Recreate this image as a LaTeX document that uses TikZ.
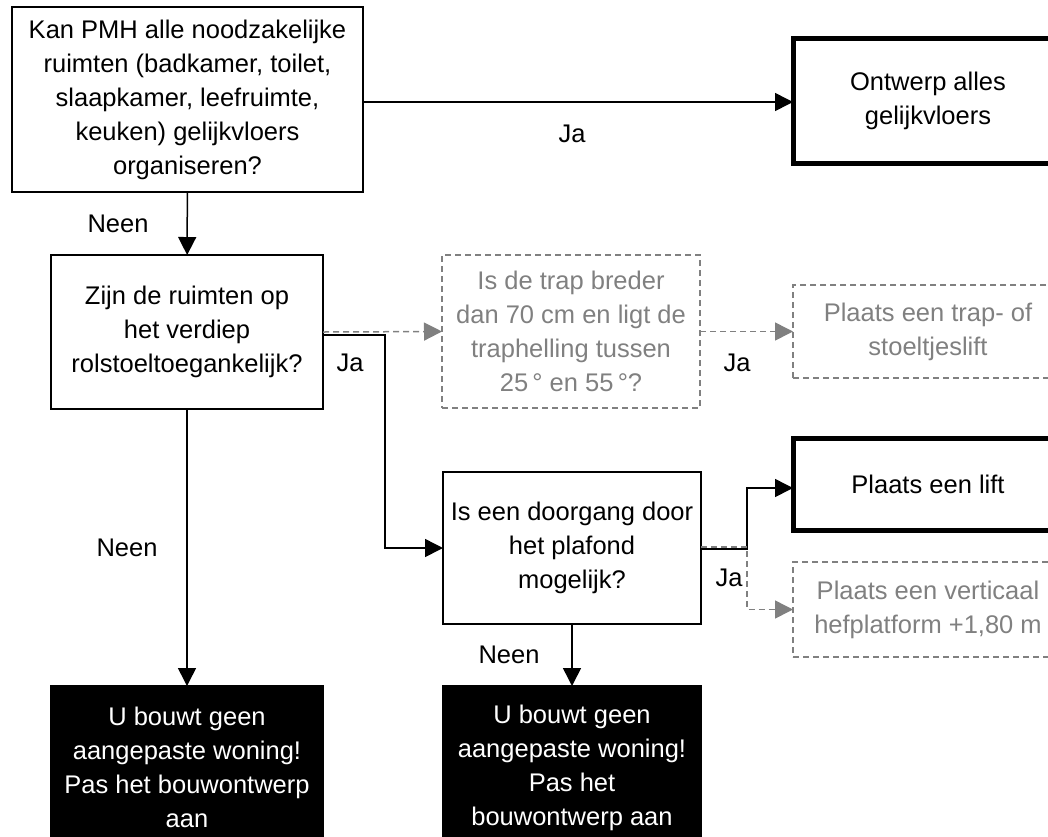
\documentclass[tikz,border=0pt]{standalone}
\usepackage{fontspec}
\setmainfont{Liberation Sans}
\usetikzlibrary{arrows.meta, positioning}
\definecolor{optgray}{HTML}{808080}

\begin{document}
\begin{tikzpicture}[
  x=1pt, y=-1pt,
  font=\fontsize{25.5}{34}\selectfont,
  box/.style={draw, line width=1.5pt, align=center, inner sep=0pt, outer sep=0pt},
  endbox/.style={box, line width=5pt},
  optbox/.style={box, dashed, dash pattern=on 6pt off 4pt, draw=optgray, text=optgray},
  stopbox/.style={box, fill=black, text=white},
  lbl/.style={inner sep=0pt},
  arr/.style={-{Triangle[length=18pt, width=18pt]}, line width=1.5pt},
  optarr/.style={arr, draw=optgray, dash pattern=on 6pt off 4pt}
]
\useasboundingbox (0,0) rectangle (1048,836);
\clip (0,0) rectangle (1048,836);

\node[box, minimum width=351pt, minimum height=185pt] (gelijk) at (187.5,99.5)
  {Kan PMH alle noodzakelijke\\ruimten (badkamer, toilet,\\slaapkamer, leefruimte,\\keuken) gelijkvloers\\organiseren?};
\node[endbox, minimum width=270pt, minimum height=125pt] (ontwerp) at (928,100.5)
  {Ontwerp alles\\gelijkvloers};
\node[box, minimum width=272pt, minimum height=154pt] (verdiep) at (187,332)
  {Zijn de ruimten op\\het verdiep\\rolstoeltoegankelijk?};
\node[optbox, minimum width=258pt, minimum height=153pt] (trap) at (571,331.5)
  {Is de trap breder\\dan 70 cm en ligt de\\traphelling tussen\\25\,° en 55\,°?};
\node[optbox, minimum width=270pt, minimum height=93pt] (traplift) at (928,331.5)
  {Plaats een trap- of\\stoeltjeslift};
\node[box, minimum width=258pt, minimum height=152pt] (plafond) at (572,548)
  {Is een doorgang door\\het plafond\\mogelijk?};
\node[endbox, minimum width=270pt, minimum height=92pt] (lift) at (928,484)
  {Plaats een lift};
\node[optbox, minimum width=270pt, minimum height=95pt] (hef) at (928,609.5)
  {Plaats een verticaal\\hefplatform +1,80 m};
\node[stopbox, minimum width=272pt, minimum height=163pt] (stopA) at (187,767.5)
  {U bouwt geen\\aangepaste woning!\\Pas het bouwontwerp\\aan};
\node[stopbox, minimum width=258pt, minimum height=163pt] (stopB) at (572,767.5)
  {U bouwt geen\\aangepaste woning!\\Pas het\\bouwontwerp aan};

\node[lbl] (jaA) at (572,134) {Ja};
\node[lbl] (neenA) at (118,224) {Neen};
\node[lbl] (jaB) at (350,363) {Ja};
\node[lbl] (jaT) at (737,363) {Ja};
\node[lbl] (neenB) at (127,548) {Neen};
\node[lbl] (jaC) at (729,578) {Ja};
\node[lbl] (neenC) at (509,655) {Neen};

\draw[arr] (gelijk.east |- 0,102) -- (ontwerp.west |- 0,102);
\draw[arr] (gelijk) -- (verdiep);
\draw[optarr] (verdiep.east) -- (trap.west);
\draw[arr] ([yshift=-3pt]verdiep.east) -- ++(62,0) |- (plafond.west);
\draw[optarr] (trap.east) -- (traplift.west);
\draw[arr] ([yshift=-1pt]plafond.east) -- ++(46,0) |- ([yshift=-4pt]lift.west);
\draw[optarr] ([yshift=1pt]plafond.east) -- ++(46,0) |- (hef.west);
\draw[arr] (verdiep) -- (stopA);
\draw[arr] (plafond) -- (stopB);
\end{tikzpicture}
\end{document}
